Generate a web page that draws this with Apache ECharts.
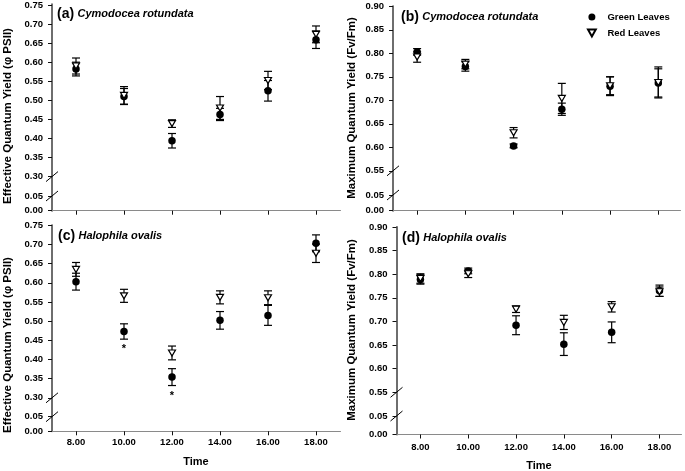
<!DOCTYPE html>
<html><head><meta charset="utf-8">
<script src="https://cdn.jsdelivr.net/npm/echarts@6/dist/echarts.min.js"></script>
<style>html,body{margin:0;padding:0;background:#fff}#c{width:685px;height:471px}</style>
</head><body><div id="c"></div>
<script>
// ---- data ----
const times = [8, 10, 12, 14, 16, 18];
const seriesNames = ['Green Leaves', 'Red Leaves'];
const panelTags = ['(a)', '(b)', '(c)', '(d)'];
const speciesNames = ['Cymodocea rotundata', 'Cymodocea rotundata', 'Halophila ovalis', 'Halophila ovalis'];
const yTitleEff = 'Effective Quantum Yield (\u03c6 PSII)';
const yTitleMax = 'Maximum Quantum Yield (Fv/Fm)';
const xTitle = 'Time';
const effRange = [0.30, 0.75];
const maxRange = [0.55, 0.90];
const lowRange = [0.00, 0.05];
const yStep = 0.05;
const xMin = 7;

// (a) Cymodocea rotundata - effective quantum yield
const greenA = [0.582, 0.510, 0.394, 0.463, 0.525, 0.659];
const greenAErr = [0.018, 0.021, 0.019, 0.016, 0.027, 0.023];
const redA = [0.590, 0.513, 0.439, 0.480, 0.552, 0.673];
const redAErr = [0.021, 0.023, 0.010, 0.030, 0.024, 0.022];
// (b) Cymodocea rotundata - maximum quantum yield
const greenB = [0.803, 0.772, 0.603, 0.681, 0.730, 0.737];
const greenBErr = [0.007, 0.010, 0.004, 0.013, 0.020, 0.030];
const redB = [0.792, 0.777, 0.631, 0.704, 0.731, 0.738];
const redBErr = [0.011, 0.010, 0.011, 0.032, 0.019, 0.033];
// (c) Halophila ovalis - effective quantum yield
const greenC = [0.603, 0.473, 0.354, 0.502, 0.515, 0.703];
const greenCErr = [0.022, 0.020, 0.022, 0.023, 0.026, 0.022];
const redC = [0.635, 0.566, 0.417, 0.562, 0.561, 0.677];
const redCErr = [0.018, 0.017, 0.018, 0.017, 0.018, 0.024];
const sigC = [10, 12];
// (d) Halophila ovalis - maximum quantum yield
const greenD = [0.789, 0.807, 0.692, 0.652, 0.677, 0.765];
const greenDErr = [0.010, 0.006, 0.020, 0.024, 0.022, 0.012];
const redD = [0.791, 0.801, 0.726, 0.698, 0.731, 0.763];
const redDErr = [0.010, 0.008, 0.007, 0.015, 0.011, 0.010];

// ---- layout / style ----
const FONT = "'Liberation Sans', Arial, sans-serif";
const TRI = 'path://M0,0L10,0L5,9Z';
const panels = [
  {g: greenA, ge: greenAErr, r: redA, re: redAErr, range: effRange, tag: panelTags[0], sp: speciesNames[0], yt: yTitleEff, sig: [], xlab: false,
   L: {left: 52, width: 288, upTop: 4.3, upH: 172.3, loTop: 196, loH: 14.7, xMax: 19, tagX: 57, tagY: 15, ytX: 8, ytY: 116}},
  {g: greenB, ge: greenBErr, r: redB, re: redBErr, range: maxRange, tag: panelTags[1], sp: speciesNames[1], yt: yTitleMax, sig: [], xlab: false,
   L: {left: 393, width: 287, upTop: 6.3, upH: 164.5, loTop: 195, loH: 15.7, xMax: 18.9, tagX: 401, tagY: 18, ytX: 352, ytY: 108}},
  {g: greenC, ge: greenCErr, r: redC, re: redCErr, range: effRange, tag: panelTags[2], sp: speciesNames[2], yt: yTitleEff, sig: sigC, xlab: true,
   L: {left: 52, width: 288, upTop: 225.3, upH: 172.5, loTop: 416.7, loH: 14.6, xMax: 19, tagX: 58, tagY: 237, ytX: 8, ytY: 345, tX: 196, tY: 462, lm: 6}},
  {g: greenD, ge: greenDErr, r: redD, re: redDErr, range: maxRange, tag: panelTags[3], sp: speciesNames[3], yt: yTitleMax, sig: [], xlab: true,
   L: {left: 396.5, width: 284.5, upTop: 227, upH: 165.3, loTop: 416, loH: 18.5, xMax: 18.9, tagX: 402, tagY: 239, ytX: 352, ytY: 330, tX: 539, tY: 466, lm: 8}}
];

const grid = [], xAxis = [], yAxis = [], series = [], graphic = [];
const lblStyle = {color: '#000', fontWeight: 'bold', fontSize: 9.5, fontFamily: FONT};
const fmt2 = v => Number(v).toFixed(2);

function errRender(params, api) {
  const x = api.value(0);
  const lo = api.coord([x, api.value(1)]);
  const hi = api.coord([x, api.value(2)]);
  const hw = 4;
  const style = {stroke: '#000', lineWidth: 1.2};
  return {type: 'group', children: [
    {type: 'line', shape: {x1: lo[0], y1: lo[1], x2: hi[0], y2: hi[1]}, style},
    {type: 'line', shape: {x1: lo[0] - hw, y1: lo[1], x2: lo[0] + hw, y2: lo[1]}, style},
    {type: 'line', shape: {x1: hi[0] - hw, y1: hi[1], x2: hi[0] + hw, y2: hi[1]}, style}
  ]};
}
function slashRender(params, api) {
  const p = api.coord([api.value(0), api.value(1)]);
  return {type: 'line', shape: {x1: p[0] - 6, y1: p[1] + 5, x2: p[0] + 6, y2: p[1] - 5}, style: {stroke: '#000', lineWidth: 1}};
}
function starRender(params, api) {
  const p = api.coord([api.value(0), api.value(1)]);
  return {type: 'text', x: p[0], y: p[1] + 10, style: {text: '*', fill: '#000', font: 'bold 11px ' + FONT, align: 'center', verticalAlign: 'middle'}};
}

panels.forEach((P, k) => {
  const L = P.L;
  const gi = grid.length;
  grid.push({left: L.left, top: L.upTop, width: L.width, height: L.upH});
  grid.push({left: L.left, top: L.loTop, width: L.width, height: L.loH});
  grid.push({left: L.left, top: L.upTop, width: L.width, height: L.loTop + L.loH - L.upTop});

  const yBase = {
    type: 'value', interval: yStep,
    axisLine: {show: true, lineStyle: {color: '#111', width: 1}},
    axisTick: {show: true, inside: false, length: 4, lineStyle: {color: '#111'}},
    axisLabel: Object.assign({margin: 9, formatter: fmt2}, lblStyle),
    splitLine: {show: false}
  };
  xAxis.push({type: 'value', gridIndex: gi, min: xMin, max: L.xMax, show: false});
  yAxis.push(Object.assign({}, yBase, {gridIndex: gi, min: P.range[0], max: P.range[1]}));
  xAxis.push({type: 'value', gridIndex: gi + 1, min: xMin, max: L.xMax,
    axisLine: {show: true, onZero: false, lineStyle: {color: '#111', width: 1}},
    axisTick: {show: true, length: 4, customValues: times, lineStyle: {color: '#111'}},
    axisLabel: Object.assign({show: P.xlab, margin: L.lm || 6, customValues: times, formatter: fmt2}, lblStyle),
    splitLine: {show: false}});
  yAxis.push(Object.assign({}, yBase, {gridIndex: gi + 1, min: lowRange[0], max: lowRange[1]}));
  xAxis.push({type: 'value', gridIndex: gi + 2, position: 'top', min: 0, max: 1,
    axisLine: {show: true, lineStyle: {color: '#8a8a8a', width: 1.2}}, axisTick: {show: false}, axisLabel: {show: false}, splitLine: {show: false}});
  yAxis.push({type: 'value', gridIndex: gi + 2, position: 'right', min: 0, max: 1,
    axisLine: {show: true, lineStyle: {color: '#6e6e6e', width: 2}}, axisTick: {show: false}, axisLabel: {show: false}, splitLine: {show: false}});

  const xi = gi, yi = gi;
  series.push({type: 'custom', xAxisIndex: xi, yAxisIndex: yi, renderItem: errRender, z: 2, silent: true,
    data: times.map((t, i) => [t, P.g[i] - P.ge[i], P.g[i] + P.ge[i]])});
  series.push({type: 'custom', xAxisIndex: xi, yAxisIndex: yi, renderItem: errRender, z: 2, silent: true,
    data: times.map((t, i) => [t, P.r[i] - P.re[i], P.r[i] + P.re[i]])});
  series.push({type: 'scatter', name: seriesNames[0], xAxisIndex: xi, yAxisIndex: yi, z: 3,
    symbol: 'circle', symbolSize: 7.5, itemStyle: {color: '#000', opacity: 1},
    data: times.map((t, i) => [t, P.g[i]])});
  series.push({type: 'scatter', name: seriesNames[1], xAxisIndex: xi, yAxisIndex: yi, z: 4,
    symbol: TRI, symbolSize: [7, 6], symbolKeepAspect: false,
    itemStyle: {color: '#fff', borderColor: '#000', borderWidth: 1.2, opacity: 1},
    data: times.map((t, i) => [t, P.r[i]])});
  series.push({type: 'custom', xAxisIndex: gi, yAxisIndex: gi, renderItem: slashRender, clip: false, silent: true, z: 5,
    data: [[xMin, P.range[0]]]});
  series.push({type: 'custom', xAxisIndex: gi + 1, yAxisIndex: gi + 1, renderItem: slashRender, clip: false, silent: true, z: 5,
    data: [[xMin, lowRange[1]]]});
  if (P.sig.length) {
    series.push({type: 'custom', xAxisIndex: xi, yAxisIndex: yi, renderItem: starRender, clip: false, silent: true, z: 5,
      data: P.sig.map(t => { const i = times.indexOf(t); return [t, P.g[i] - P.ge[i]]; })});
  }
  graphic.push({type: 'text', left: L.tagX, top: L.tagY - 8, z: 10, style: {
    text: '{p|' + P.tag + '} {s|' + P.sp + '}',
    rich: {p: {font: 'bold 14px ' + FONT, fill: '#000'}, s: {font: 'italic bold 11px ' + FONT, fill: '#000'}}}});
  graphic.push({type: 'text', x: L.ytX, y: L.ytY, rotation: Math.PI / 2, z: 10, style: {
    text: P.yt, font: 'bold 11.5px ' + FONT, fill: '#000', align: 'center', verticalAlign: 'middle'}});
  if (L.tX) {
    graphic.push({type: 'text', x: L.tX, y: L.tY, z: 10, style: {
      text: xTitle, font: 'bold 11px ' + FONT, fill: '#000', align: 'center', verticalAlign: 'middle'}});
  }
});

const chart = echarts.init(document.getElementById('c'), null, {renderer: 'canvas'});
chart.setOption({
  animation: false,
  backgroundColor: '#fff',
  grid, xAxis, yAxis, series, graphic,
  legend: {
    data: [{name: seriesNames[0], icon: 'circle'}, {name: seriesNames[1], icon: TRI}],
    orient: 'vertical', left: 587, top: 12, padding: 0,
    itemWidth: 9, itemHeight: 7, itemGap: 6, selectedMode: false, symbolKeepAspect: true,
    textStyle: {color: '#000', fontWeight: 'bold', fontSize: 9.5, fontFamily: FONT, padding: [0, 0, 0, 6]}
  }
});
</script>
</body></html>
